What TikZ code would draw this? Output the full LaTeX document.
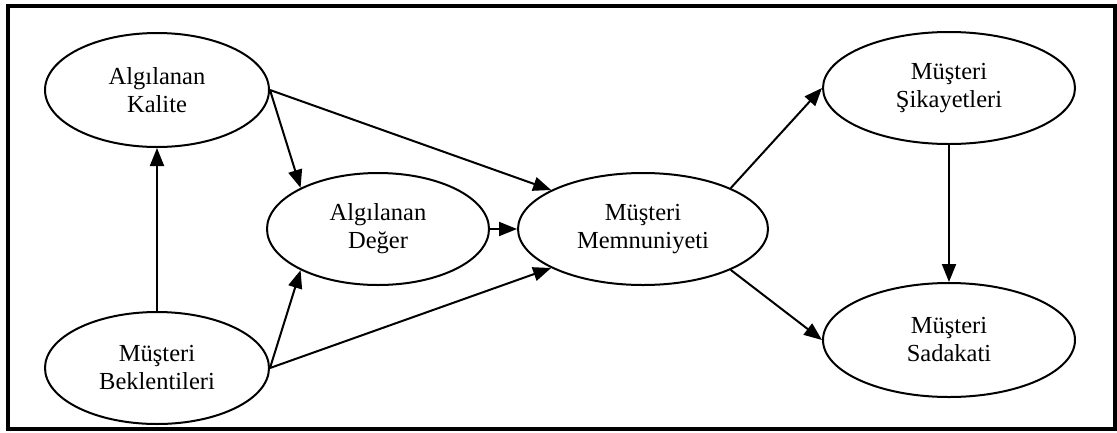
\documentclass[tikz,border=0pt]{standalone}
\usepackage{fontspec}
\setmainfont{Liberation Serif}
\usetikzlibrary{shapes.geometric,arrows.meta}
\begin{document}
\begin{tikzpicture}[x=1pt,y=-1pt,
  ell/.style={ellipse, draw, line width=2pt, inner sep=0pt, align=center,
    font=\fontsize{24.5}{28}\selectfont},
  arr/.style={line width=2pt, -{Triangle[length=18pt,width=14pt]}},
  frame/.style={line width=4pt}]
\useasboundingbox (0,0) rectangle (1117,432);
\draw[frame] (8,6) rectangle (1115,429);
\node[ell, minimum width=224pt, minimum height=114pt] (AK) at (157,90) {Algılanan\\Kalite};
\node[ell, minimum width=224pt, minimum height=112pt] (MB) at (157,368) {Müşteri\\Beklentileri};
\node[ell, minimum width=222pt, minimum height=112pt] (AD) at (378,229) {Algılanan\\Değer};
\node[ell, minimum width=250pt, minimum height=112pt] (MM) at (643,229) {Müşteri\\Memnuniyeti};
\node[ell, minimum width=252pt, minimum height=112pt] (MS) at (949,88) {Müşteri\\Şikayetleri};
\node[ell, minimum width=252pt, minimum height=114pt] (MSad) at (949,340) {Müşteri\\Sadakati};
\draw[arr] (MB) -- (AK);
\draw[arr] (AK.east) -- (AD.152);
\draw[arr] (AK.east) -- (MM.157);
\draw[arr] (MB.east) -- (AD.208);
\draw[arr] (MB.east) -- (MM.203);
\draw[arr] (AD) -- (MM);
\draw[arr] (MM.25) -- (MS.west);
\draw[arr] (MM.-25) -- (MSad.west);
\draw[arr] (MS) -- (MSad);
\end{tikzpicture}
\end{document}
